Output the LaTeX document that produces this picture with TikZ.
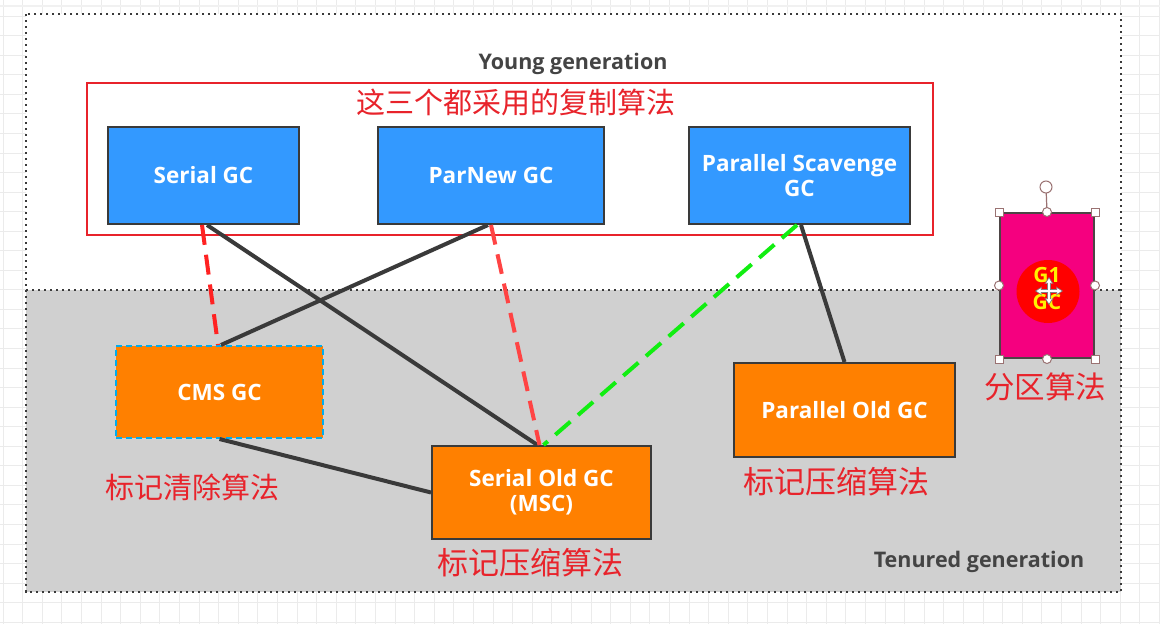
\documentclass[tikz,border=0pt]{standalone}
\usepackage{fontspec}
\setmainfont{Open Sans}
\newfontfamily\cjk{Noto Sans CJK SC}
\usetikzlibrary{arrows.meta,calc}
\definecolor{gcblue}{HTML}{3399FF}
\definecolor{gcorange}{HTML}{FF8000}
\definecolor{gcgray}{HTML}{D0D0D0}
\definecolor{boxline}{HTML}{3A3A3A}
\definecolor{gridc}{HTML}{EBEBEB}
\definecolor{labred}{HTML}{E8232B}
\definecolor{dashred}{HTML}{FF2222}
\definecolor{dashred2}{HTML}{FF4444}
\definecolor{dashgreen}{HTML}{11EE11}
\definecolor{g1pink}{HTML}{F5007F}
\definecolor{handlec}{HTML}{9A7272}
\definecolor{gentext}{HTML}{444444}
\newcommand\gcfont{\fontsize{22.5}{28}\selectfont\bfseries}
\newcommand\cnfont{\cjk\fontsize{29}{32}\selectfont}
\begin{document}
\begin{tikzpicture}[x=1pt,y=-1pt,
  gcbox/.style={draw=boxline, line width=2pt, text=white, font=\gcfont, align=center, inner sep=0pt},
  youngbox/.style={gcbox, fill=gcblue},
  oldbox/.style={gcbox, fill=gcorange},
  conn/.style={line width=4pt, draw=boxline},
  reddash/.style={line width=4pt, draw=dashred, dash pattern=on 20pt off 10pt},
  greendash/.style={line width=4pt, draw=dashgreen, dash pattern=on 20pt off 10pt},
  cnlabel/.style={text=labred, font=\cnfont, inner sep=0pt},
  biglabel/.style={cnlabel, font=\cjk\fontsize{31}{34}\selectfont},
  genlabel/.style={text=gentext, font=\fontsize{21.5}{25}\selectfont\bfseries, inner sep=0pt},
  dotline/.style={draw=boxline, line width=2.6pt, dash pattern=on 2.4pt off 3.6pt},
  sqhandle/.style={draw=handlec, fill=white, line width=1pt, minimum size=8pt, inner sep=0pt},
  rdhandle/.style={draw=handlec, fill=white, line width=1pt, circle, minimum size=9pt, inner sep=0pt}
]
\useasboundingbox (0,0) rectangle (1160,624);
\fill[white] (0,0) rectangle (1160,624);
% background grid
\foreach \i in {0,...,59} {\draw[gridc, line width=1pt] ({3+19.6*\i},0) -- ({3+19.6*\i},624);}
\foreach \j in {0,...,31} {\draw[gridc, line width=1pt] (0,{16.15+19.55*\j}) -- (1160,{16.15+19.55*\j});}
\draw[gridc!80!black!20, line width=2pt] (0,6) -- (1160,6);
% generations
\fill[white] (26,14) rectangle (1121,290);
\fill[gcgray] (26,290) rectangle (1121,592);
\draw[dotline] (26,14) rectangle (1121,592);
\draw[dotline] (26,290) -- (1121,290);
\node[genlabel] (young) at (573,64) {Young generation};
\node[genlabel, font=\fontsize{21.5}{25}\selectfont\bfseries] (tenured) at (979,562) {Tenured generation};
% red frame
\node[draw=labred, line width=1.2pt, minimum width=846pt, minimum height=152pt, inner sep=0pt] (frame) at (510,159) {};
\node[cnlabel] (copylab) at (516,102) {这三个都采用的复制算法};
% young collectors
\node[youngbox, minimum width=191pt, minimum height=97pt] (serial) at (203.5,175.5) {Serial GC};
\node[youngbox, minimum width=226pt, minimum height=97pt] (parnew) at (491,175.5) {ParNew GC};
\node[youngbox, minimum width=221pt, minimum height=97pt] (pscav) at (799.5,175.5) {Parallel Scavenge\\[-3pt]GC};
% old collectors
\node[oldbox, draw=cyan, dash pattern=on 6pt off 4pt, minimum width=207pt, minimum height=92pt] (cms) at (219.5,392) {CMS GC};
\node[oldbox, minimum width=219pt, minimum height=93pt] (serialold) at (541.5,492.5) {Serial Old GC\\[-3pt](MSC)};
\node[oldbox, minimum width=221pt, minimum height=94pt] (parold) at (844.5,410) {Parallel Old GC};
% labels
\node[cnlabel] (cmslab) at (192,487) {标记清除算法};
\node[biglabel] (sollab) at (530,563) {标记压缩算法};
\node[biglabel] (polab) at (836,482) {标记压缩算法};
% connectors
\draw[reddash] ($(serial.south)+(-1.5,0)$) -- ($(cms.north)+(-1.5,0)$);
\draw[conn] ($(serial.south)+(3.5,0)$) -- ($(serialold.north)+(-4,0)$);
\draw[conn] ($(parnew.south)+(-3,0)$) -- ($(cms.north)+(1.5,0)$);
\draw[reddash, draw=dashred2] (parnew.south) -- ($(serialold.north)+(-2,0)$);
\draw[greendash] ($(pscav.south)+(-2.5,0)$) -- ($(serialold.north)+(2,0)$);
\draw[conn] ($(pscav.south)+(1.5,0)$) -- (parold.north);
\draw[conn] (cms.south) -- (serialold.west);
% G1
\node[draw=boxline!80!handlec, line width=2pt, fill=g1pink, minimum width=94pt, minimum height=145pt, inner sep=0pt] (g1) at (1047,285.5) {};
\fill[red] (1048,291.5) circle (31.5);
\node[text=yellow, font=\fontsize{21}{23}\selectfont\bfseries, inner sep=0pt] (g1a) at (1047,275) {G1};
\node[text=yellow, font=\fontsize{21}{23}\selectfont\bfseries, inner sep=0pt] (g1b) at (1047,302) {GC};
\node[biglabel, font=\cjk\fontsize{30.5}{34}\selectfont] (g1lab) at (1045,387) {分区算法};
% selection handles
\coordinate (rot) at (1046,187);
\draw[handlec, line width=1.2pt] (rot) -- (g1.north);
\node[rdhandle, minimum size=12pt] (roth) at (rot) {};
\foreach \a in {north west, north east, south west, south east} {\node[sqhandle] at (g1.\a) {};}
\foreach \a in {north, south, east, west} {\node[rdhandle] at (g1.\a) {};}
% move cursor
\coordinate (mv) at (1049,291);
\draw[gray, line width=3.5pt, {Stealth[length=7pt,width=9pt]}-{Stealth[length=7pt,width=9pt]}] ($(mv)+(-14,0)$) -- ($(mv)+(14,0)$);
\draw[gray, line width=3.5pt, {Stealth[length=7pt,width=9pt]}-{Stealth[length=7pt,width=9pt]}] ($(mv)+(0,-14)$) -- ($(mv)+(0,14)$);
\draw[white, line width=1.8pt, {Stealth[length=5pt,width=6pt]}-{Stealth[length=5pt,width=6pt]}] ($(mv)+(-12.5,0)$) -- ($(mv)+(12.5,0)$);
\draw[white, line width=1.8pt, {Stealth[length=5pt,width=6pt]}-{Stealth[length=5pt,width=6pt]}] ($(mv)+(0,-12.5)$) -- ($(mv)+(0,12.5)$);
\end{tikzpicture}
\end{document}
